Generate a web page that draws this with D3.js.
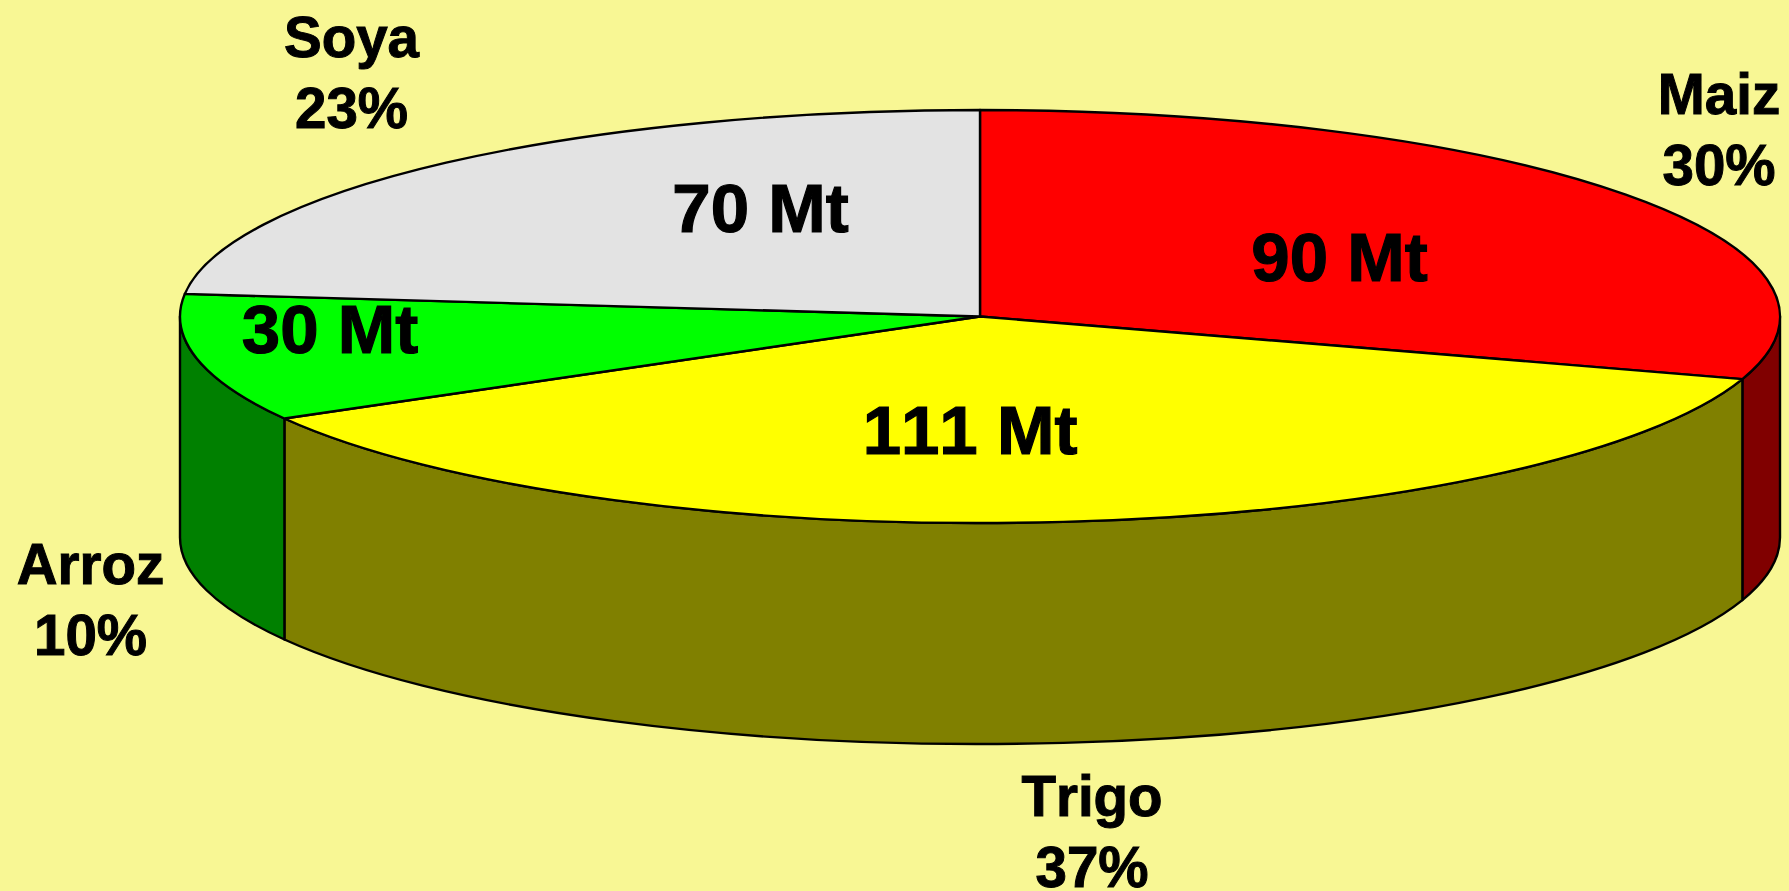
<!DOCTYPE html>
<html><head><meta charset="utf-8">
<script src="https://cdn.jsdelivr.net/npm/d3@7/dist/d3.min.js"></script>
<style>html,body{margin:0;padding:0;background:#f8f794;overflow:hidden}svg{display:block}</style>
</head><body><script>
const categories = ["Maiz","Trigo","Arroz","Soya"];
const tonnage = [90,111,30,70];
const valueLabels = ["90 Mt","111 Mt","30 Mt","70 Mt"];
const shareLabels = ["30%","37%","10%","23%"];
const topColors = ["#ff0000","#ffff00","#00ff00","#e3e3e3"];
const sideColors = ["#800000","#808000","#008000","#808080"];
// label layout: [centre x, baseline y]
const valueAnchors = [[1339.5,281],[970,454],[330,353],[760.5,232]];
const nameAnchors = [[1719,114],[1092,816],[90.5,583.5],[351.5,57]];

const W=1789,H=891,cx=980,cy=316.5,rx=800,ry=206.5,depth=221;
const svg=d3.select("body").append("svg").attr("width",W).attr("height",H);
svg.append("rect").attr("width",W).attr("height",H).attr("fill","#f8f794");

const px=d3.scaleLinear().domain([-1,1]).range([cx-rx,cx+rx]);
const py=d3.scaleLinear().domain([-1,1]).range([cy+ry,cy-ry]); // unit circle, +1 is back of disc
const pie=d3.pie().sort(null).value(d=>d)(tonnage);
const X=a=>px(Math.sin(a)), Y=a=>py(Math.cos(a));
const f=n=>n.toFixed(2);
const PI=Math.PI;

function sidePath(a0,a1){
  const lo=Math.max(a0,PI/2), hi=Math.min(a1,3*PI/2);
  if(hi<=lo) return null;
  return `M${f(X(lo))},${f(Y(lo))}A${rx},${ry} 0 0 1 ${f(X(hi))},${f(Y(hi))}`+
         `L${f(X(hi))},${f(Y(hi)+depth)}A${rx},${ry} 0 0 0 ${f(X(lo))},${f(Y(lo)+depth)}Z`;
}
function topPath(a0,a1){
  const large=(a1-a0)>PI?1:0;
  return `M${cx},${cy}L${f(X(a0))},${f(Y(a0))}A${rx},${ry} 0 ${large} 1 ${f(X(a1))},${f(Y(a1))}Z`;
}
const stroke={stroke:"#000","stroke-width":2.4,"stroke-linejoin":"round"};
const sides=svg.append("g").selectAll("path").data(pie.filter(d=>sidePath(d.startAngle,d.endAngle))).join("path")
  .attr("d",d=>sidePath(d.startAngle,d.endAngle)).attr("fill",d=>sideColors[d.index]);
const tops=svg.append("g").selectAll("path").data(pie).join("path")
  .attr("d",d=>topPath(d.startAngle,d.endAngle)).attr("fill",d=>topColors[d.index]);
for(const sel of [sides,tops]) for(const k in stroke) sel.attr(k,stroke[k]);

const font="'Liberation Sans',Arial,sans-serif";
svg.append("g").selectAll("text").data(valueLabels).join("text")
  .attr("x",(d,i)=>valueAnchors[i][0]).attr("y",(d,i)=>valueAnchors[i][1])
  .attr("text-anchor","middle").attr("font-family",font).attr("font-weight",700)
  .style("font-kerning","none").attr("stroke","#000").attr("stroke-width",1.2)
  .attr("font-size",69).attr("fill","#000").text(d=>d);
const names=svg.append("g").selectAll("text").data(categories).join("text")
  .attr("text-anchor","middle").attr("font-family",font).attr("font-weight",700)
  .style("font-kerning","none").attr("stroke","#000").attr("stroke-width",1)
  .attr("font-size",56.5).attr("fill","#000")
  .attr("x",(d,i)=>nameAnchors[i][0]).attr("y",(d,i)=>nameAnchors[i][1]);
names.append("tspan").text(d=>d);
names.append("tspan").attr("x",(d,i)=>nameAnchors[i][0]).attr("dy",71).text((d,i)=>shareLabels[i]);
</script></body></html>
